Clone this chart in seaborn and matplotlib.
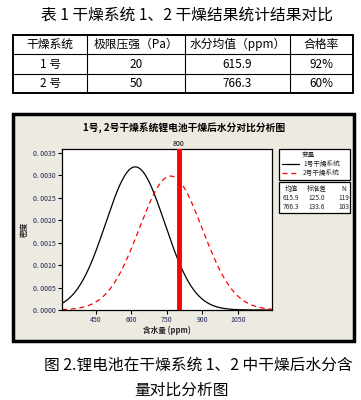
import numpy as np
import pandas as pd
import matplotlib
matplotlib.use("Agg")
import matplotlib.pyplot as plt
import seaborn as sns
from matplotlib.patches import Rectangle
from matplotlib.lines import Line2D

# ---- data ----
table_header = ["干燥系统", "极限压强（Pa）", "水分均值（ppm）", "合格率"]
table_row1 = ["1 号", "20", "615.9", "92%"]
table_row2 = ["2 号", "50", "766.3", "60%"]
series_names = ["1号干燥系统", "2号干燥系统"]
means = [615.9, 766.3]
stds = [125.0, 133.6]
counts = [119, 103]
ref_line = 800
x_ticks = [450, 600, 750, 900, 1050]
y_ticks = [0.0000, 0.0005, 0.0010, 0.0015, 0.0020, 0.0025, 0.0030, 0.0035]
x_range = [306, 1195]

sns.set_style("white")
plt.rcParams['font.family'] = ['Noto Sans CJK SC', 'DejaVu Sans']

W, H = 361, 400
fig = plt.figure(figsize=(W / 100, H / 100), dpi=100)
fig.patch.set_facecolor("white")

def fx(px):
    return px / W

def fy(py):
    return 1 - py / H

# ---- top title ----
fig.text(fx(187), fy(15), "表 1 干燥系统 1、2 干燥结果统计结果对比", ha="center", va="center",
         fontsize=11.3, color="black")

# ---- table ----
col_x = [13, 87, 185, 290, 353]
row_y = [35, 54, 74, 93]
for i, x in enumerate(col_x):
    lw = 1.4 if i in (0, len(col_x) - 1) else 0.8
    fig.add_artist(Line2D([fx(x), fx(x)], [fy(row_y[0]), fy(row_y[-1])], color="black", lw=lw))
for i, y in enumerate(row_y):
    lw = 1.4 if i in (0, len(row_y) - 1) else 0.8
    fig.add_artist(Line2D([fx(col_x[0]), fx(col_x[-1])], [fy(y), fy(y)], color="black", lw=lw))
for r, row in enumerate([table_header, table_row1, table_row2]):
    yc = (row_y[r] + row_y[r + 1]) / 2
    for c, txt in enumerate(row):
        xc = (col_x[c] + col_x[c + 1]) / 2
        fig.text(fx(xc), fy(yc), txt, ha="center", va="center", fontsize=8.5, color="black")

# ---- chart frame ----
frame = Rectangle((fx(13), fy(341)), fx(341), (341 - 114) / H, transform=fig.transFigure,
                  facecolor="#EDEAE1", edgecolor="black", lw=2.5, zorder=0)
fig.add_artist(frame)

fig.text(fx(184), fy(128), "1号, 2号干燥系统锂电池干燥后水分对比分析图", ha="center", va="center",
         fontsize=7, fontweight="bold", color="black")

# ---- axes ----
ax = fig.add_axes([fx(62), fy(310), fx(210), (310 - 149) / H])
ax.set_facecolor("white")
xs = np.linspace(x_range[0], x_range[1], 400)
frames = []
for name, m, s in zip(series_names, means, stds):
    dens = np.exp(-0.5 * ((xs - m) / s) ** 2) / (s * np.sqrt(2 * np.pi))
    frames.append(pd.DataFrame({"x": xs, "density": dens, "series": name}))
df = pd.concat(frames, ignore_index=True)

sns.lineplot(data=df[df.series == series_names[0]], x="x", y="density", color="black",
             lw=0.9, ax=ax, legend=False)
sns.lineplot(data=df[df.series == series_names[1]], x="x", y="density", color="#FF0000",
             lw=0.9, ax=ax, legend=False, dashes=False)
ax.lines[-1].set_dashes([4, 3])
ax.axvline(ref_line, color="#FF0000", lw=3.5, zorder=5)

ax.set_xlim(x_range)
ax.set_ylim(0, 0.00359)
ax.set_xticks(x_ticks)
ax.set_xticklabels([str(t) for t in x_ticks])
ax.set_yticks(y_ticks)
ax.set_yticklabels([f"{t:.4f}".replace(".", ". ") for t in y_ticks])
ax.tick_params(axis="both", direction="out", length=3, width=0.8, labelsize=5,
               labelcolor="#1c2452", color="black", pad=1.5, left=True, bottom=True)
for sp in ax.spines.values():
    sp.set_visible(True)
    sp.set_color("black")
    sp.set_linewidth(0.9)
ax.set_xlabel("含水量 (ppm)", fontsize=5.5, fontweight="bold", labelpad=1)
ax.set_ylabel("密度", fontsize=5.5, fontweight="bold", labelpad=3)
ax.text(ref_line, 1.005, str(ref_line), transform=ax.get_xaxis_transform(), ha="center",
        va="bottom", fontsize=5, color="black")

# ---- legend boxes ----
box1 = Rectangle((fx(279), fy(180)), fx(71), 31 / H, transform=fig.transFigure,
                 facecolor="white", edgecolor="black", lw=0.9)
box2 = Rectangle((fx(279), fy(213)), fx(71), 31 / H, transform=fig.transFigure,
                 facecolor="white", edgecolor="black", lw=0.9)
fig.add_artist(box1)
fig.add_artist(box2)
fig.text(fx(308), fy(156), "变量", ha="center", va="center", fontsize=4.8)
fig.add_artist(Line2D([fx(282), fx(299)], [fy(164), fy(164)], color="black", lw=0.9))
l2 = Line2D([fx(282), fx(299)], [fy(173), fy(173)], color="#FF0000", lw=0.9)
l2.set_dashes([4, 3])
fig.add_artist(l2)
fig.text(fx(303), fy(164), series_names[0], ha="left", va="center", fontsize=4.8)
fig.text(fx(303), fy(173), series_names[1], ha="left", va="center", fontsize=4.8)

cols = [291, 317, 344]
for c, h in zip(cols, ["均值", "标准差", "N"]):
    fig.text(fx(c), fy(189), h, ha="center", va="center", fontsize=4.8)
for r, (m, s, n) in enumerate(zip(means, stds, counts)):
    yy = 198 + r * 9
    for c, v in zip(cols, [f"{m:.1f}", f"{s:.1f}", str(n)]):
        fig.text(fx(c), fy(yy), v, ha="center", va="center", fontsize=4.8)

# ---- caption ----
fig.text(fx(44), fy(365), "图 2.锂电池在干燥系统 1、2 中干燥后水分含", ha="left", va="center",
         fontsize=11.3, color="black")
fig.text(fx(182), fy(390), "量对比分析图", ha="center", va="center", fontsize=11.3, color="black")

fig.savefig("out.png", dpi=100)
